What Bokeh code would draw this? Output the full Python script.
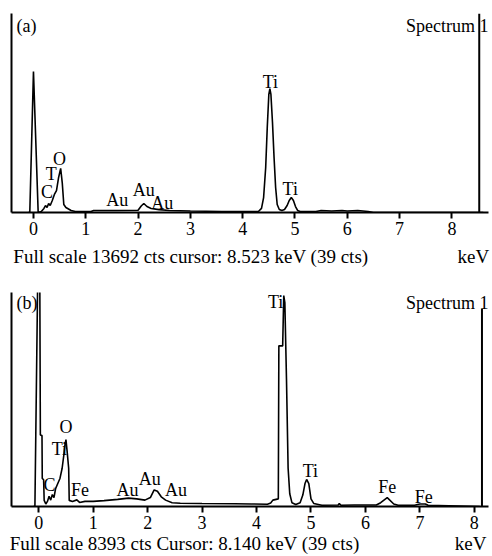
from bokeh.plotting import figure
from bokeh.layouts import column
from bokeh.models import Label, FixedTicker, LinearAxis
from bokeh.embed import file_html
from bokeh.resources import INLINE

FONT = "Liberation Serif"

# ---------------- panel (a) ----------------
energy_a = [-0.10, -0.07, 0.00, 0.09, 0.15, 0.20, 0.23, 0.26, 0.29, 0.32, 0.36, 0.40, 0.44,
            0.48, 0.52, 0.55, 0.58, 0.62, 0.72, 0.80, 1.10, 1.15, 1.60, 2.00, 2.06, 2.11,
            2.17, 2.25, 2.40, 2.60, 3.00, 3.60, 4.20, 4.30, 4.36, 4.40, 4.44, 4.47, 4.50,
            4.52, 4.54, 4.57, 4.60, 4.63, 4.66, 4.70, 4.75, 4.80, 4.85, 4.89, 4.93, 4.97,
            5.01, 5.05, 5.10, 5.40, 5.50, 5.70, 5.90, 6.00, 6.20, 6.40, 6.50, 8.60]
counts_a = [0, 0, 9700, 0, 70, 280, 480, 340, 620, 480, 830, 1240, 1510,
            2400, 3030, 2060, 550, 340, 140, 70, 70, 140, 140, 150, 450, 620,
            410, 280, 200, 140, 100, 70, 70, 70, 280, 1030, 3100, 5850, 8120,
            8530, 8120, 6190, 3780, 1720, 550, 210, 140, 210, 480, 830, 1030, 830,
            410, 140, 70, 70, 140, 100, 140, 100, 140, 70, 0, 0]
full_scale_a = 13692
cursor_a = 8.523
footer_a = "Full scale 13692 cts cursor: 8.523 keV (39 cts)"
peak_text_a = ["C", "T", "O", "Au", "Au", "Au", "Ti", "Ti"]
peak_x_a = [0.26, 0.34, 0.50, 1.60, 2.11, 2.46, 4.53, 4.91]
peak_y_a = [1380, 2680, 3650, 830, 1580, 620, 9010, 1650]

# ---------------- panel (b) ----------------
energy_b = [-0.10, -0.07, -0.02, 0.00, 0.02, 0.03, 0.06, 0.065, 0.09, 0.10, 0.13, 0.16, 0.19,
            0.22, 0.25, 0.28, 0.31, 0.35, 0.39, 0.43, 0.46, 0.48, 0.50, 0.52, 0.55, 0.56,
            0.62, 0.70, 0.75, 0.85, 1.00, 1.20, 1.45, 1.65, 1.80, 1.95, 2.05, 2.12, 2.18,
            2.25, 2.33, 2.45, 2.60, 3.00, 3.60, 3.90, 4.20, 4.26, 4.30, 4.40, 4.41, 4.48,
            4.50, 4.52, 4.55, 4.58, 4.61, 4.65, 4.72, 4.80, 4.85, 4.89, 4.92, 4.96, 5.00,
            5.05, 5.20, 5.50, 5.52, 5.55, 5.80, 6.20, 6.28, 6.40, 6.52, 6.60, 6.90, 7.00,
            7.10, 7.15, 8.10]
counts_b = [0, 0, 8700, 8800, 8700, 2800, 2780, 1100, 1050, 240, 100, 200, 400,
            250, 470, 350, 700, 900, 1100, 1500, 2000, 2400, 2620, 2200, 1500, 240,
            200, 260, 160, 200, 200, 230, 280, 330, 300, 250, 350, 650, 600,
            380, 250, 150, 130, 120, 110, 100, 90, 140, 250, 300, 6300, 6300,
            8270, 8000, 5000, 1500, 500, 150, 80, 150, 450, 900, 1060, 900, 300,
            120, 50, 60, 120, 50, 60, 60, 150, 350, 100, 50, 50, 100,
            100, 50, 0]
full_scale_b = 8393
cursor_b = 8.140
cursor_top_b = 7760
footer_b = "Full scale 8393 cts Cursor: 8.140 keV (39 cts)"
peak_text_b = ["C", "Ti", "O", "Fe", "Au", "Au", "Au", "Ti", "Ti", "Fe", "Fe"]
peak_x_b = [0.20, 0.38, 0.50, 0.76, 1.63, 2.04, 2.52, 4.35, 4.99, 6.40, 7.07]
peak_y_b = [860, 2270, 3100, 630, 630, 1060, 630, 8040, 1410, 780, 390]

ticks = [0, 1, 2, 3, 4, 5, 6, 7, 8]
unit_label = "keV"


def panel(energy, counts, full_scale, cursor, cursor_top, ptxt, px, py, x_range,
          tag, footer, btop, bbot, bright, fh, ky, foot_x, unit_x, foot_standoff):
    p = figure(width=492, height=278, x_range=x_range, y_range=(0, full_scale),
               min_border_top=btop, min_border_left=11, min_border_right=bright,
               min_border_bottom=bbot, output_backend="svg", toolbar_location=None)
    p.title.visible = False
    p.outline_line_color = None
    p.grid.visible = False
    # x axis with ticks
    ax = p.xaxis[0]
    ax.ticker = FixedTicker(ticks=ticks)
    ax.minor_tick_line_color = None
    ax.major_tick_out = 6
    ax.major_tick_in = 0
    ax.major_tick_line_width = 2
    ax.axis_line_width = 2
    ax.axis_line_color = "black"
    ax.major_tick_line_color = "black"
    ax.major_label_text_font = FONT
    ax.major_label_text_font_size = "18px"
    ax.major_label_text_color = "black"
    ax.major_label_standoff = 3
    # second axis carrying the footer line (footer text and unit)
    ax2 = LinearAxis(ticker=FixedTicker(ticks=[foot_x, unit_x]),
                     major_label_overrides={foot_x: footer, unit_x: unit_label})
    ax2.axis_line_color = None
    ax2.major_tick_line_color = None
    ax2.minor_tick_line_color = None
    ax2.major_tick_out = 0
    ax2.major_tick_in = 0
    ax2.major_label_standoff = foot_standoff
    ax2.major_label_text_font = FONT
    ax2.major_label_text_font_size = "19px"
    ax2.major_label_text_color = "black"
    p.add_layout(ax2, "below")
    # y axis: only its line
    p.yaxis.ticker = FixedTicker(ticks=[])
    p.yaxis.major_tick_line_color = None
    p.yaxis.minor_tick_line_color = None
    p.yaxis.major_tick_out = 0
    p.yaxis.major_label_standoff = 0
    p.yaxis.axis_line_width = 2
    p.yaxis.axis_line_color = "black"

    p.line(energy, counts, line_color="black", line_width=1.6)
    p.segment(x0=[cursor], y0=[0], x1=[cursor], y1=[cursor_top],
              line_color="black", line_width=2)
    p.text(x=px, y=py, text=ptxt, text_font={"value": FONT}, text_font_size="18px",
           text_align="center", text_baseline="middle", text_color="black")

    x0, x1 = x_range
    kx = fh[0]
    p.add_layout(Label(x=x0 + 5 / kx, y=full_scale - ky, text=tag, text_font=FONT,
                       text_font_size="18px", text_baseline="middle", text_align="left",
                       text_color="black"))
    p.add_layout(Label(x=x1, y=full_scale - ky, text="Spectrum 1",
                       text_font=FONT, text_font_size="18px", text_baseline="middle",
                       text_align="right", text_color="black"))
    return p


pa = panel(energy_a, counts_a, full_scale_a, cursor_a, full_scale_a,
           peak_text_a, peak_x_a, peak_y_a, (-0.42, 8.70), "(a)", footer_a,
           13, 66, 4, (52.3,), 12 * full_scale_a / 199, 3.01, 8.41, 8)
pb = panel(energy_b, counts_b, full_scale_b, cursor_b, cursor_top_b,
           peak_text_b, peak_x_b, peak_y_b, (-0.50, 8.26), "(b)", footer_b,
           14, 50, 2, (54.55,), 10 * full_scale_b / 214, 2.68, 7.93, 1)

layout = column(pa, pb, spacing=0)
open("out.html", "w").write(file_html(layout, INLINE))
